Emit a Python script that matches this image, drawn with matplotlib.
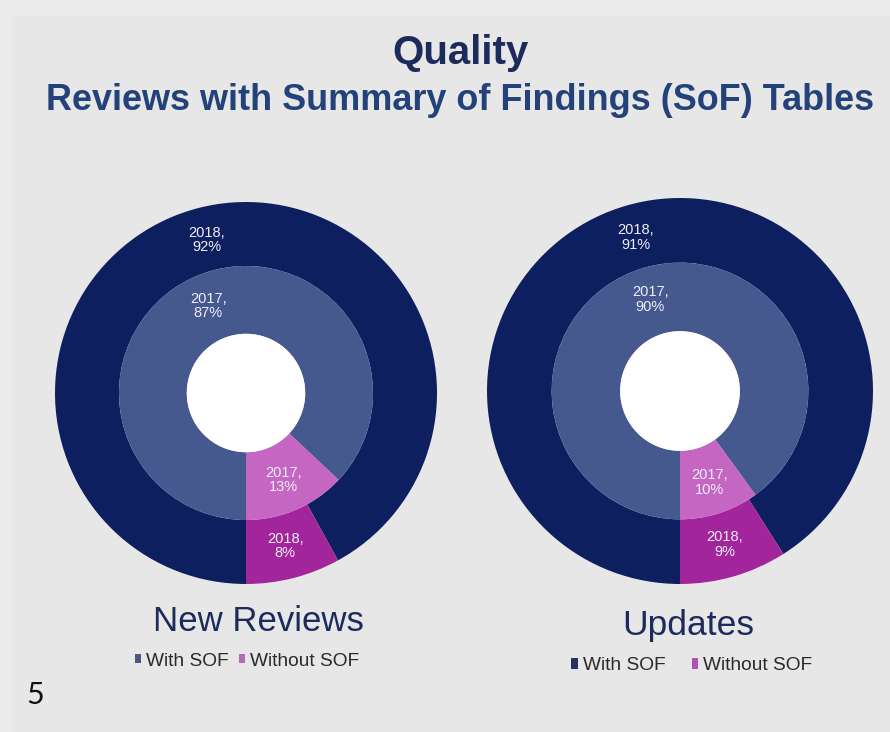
import matplotlib
matplotlib.use("Agg")
import matplotlib.pyplot as plt
import numpy as np
from matplotlib.patches import Patch, Circle, Rectangle

plt.rcParams['font.family'] = ['Liberation Sans', 'DejaVu Sans']

# ---- data ----
categories = ["With SOF", "Without SOF"]
new_2017 = [87, 13]
new_2018 = [92, 8]
upd_2017 = [90, 10]
upd_2018 = [91, 9]
chart_titles = ["New Reviews", "Updates"]
year_inner = "2017"
year_outer = "2018"

# ---- style ----
bg = "#e7e7e7"
outer_colors = ["#0e1f5f", "#a2259c"]
inner_colors = ["#46598f", "#c466c2"]
title_color = "#1c2b5c"
sub_color = "#23427a"

W, H = 890, 732
fig = plt.figure(figsize=(W / 100, H / 100), dpi=100, facecolor=bg)
# subtle lighter slide border strips
fig.patches.append(Rectangle((0, 1 - 16 / H), 1, 16 / H, transform=fig.transFigure,
                             facecolor="#ebebeb", edgecolor="none", zorder=0))
fig.patches.append(Rectangle((0, 0), 12 / W, 1, transform=fig.transFigure,
                             facecolor="#ebebeb", edgecolor="none", zorder=0))

def px_axes(cx, cy, r):
    return fig.add_axes([(cx - r) / W, (H - cy - r) / H, 2 * r / W, 2 * r / H])

def donut(ax, inner, outer):
    ax.set_facecolor("none")
    r_out, r_mid, r_hole = 1.0, 0.665, 0.31
    wo, _ = ax.pie(outer, radius=r_out, colors=outer_colors, startangle=270,
                   counterclock=False, wedgeprops=dict(width=r_out - r_mid, linewidth=0))
    wi, _ = ax.pie(inner, radius=r_mid, colors=inner_colors, startangle=270,
                   counterclock=False, wedgeprops=dict(width=r_mid - r_hole, linewidth=0))
    ax.add_patch(Circle((0, 0), r_hole, facecolor="white", edgecolor="none"))
    for wedges, vals, yr, rr in ((wo, outer, year_outer, (r_out + r_mid) / 2 - 0.005),
                                 (wi, inner, year_inner, (r_mid + r_hole) / 2 + 0.01)):
        for w, v in zip(wedges, vals):
            a = np.deg2rad((w.theta1 + w.theta2) / 2)
            ax.text(rr * np.cos(a), rr * np.sin(a), f"{yr},\n{v}%", ha="center",
                    va="center", color="#f0eef6", fontsize=10.5, linespacing=1.05)
    ax.set_xlim(-1, 1)
    ax.set_ylim(-1, 1)
    ax.set_aspect("equal")
    ax.axis("off")

ax1 = px_axes(246, 393, 191)
donut(ax1, new_2017, new_2018)
ax2 = px_axes(680, 391, 193)
donut(ax2, upd_2017, upd_2018)

fig.text(461 / W, 1 - 53 / H, "Quality", ha="center", va="center",
         fontsize=29, fontweight="bold", color=title_color)
fig.text(460 / W, 1 - 100 / H, "Reviews with Summary of Findings (SoF) Tables",
         ha="center", va="center", fontsize=25.9, fontweight="bold", color=sub_color)

fig.text(258 / W, 1 - 631 / H, chart_titles[0], ha="center", va="baseline",
         fontsize=25, color=title_color)
fig.text(688 / W, 1 - 635 / H, chart_titles[1], ha="center", va="baseline",
         fontsize=25.5, color=title_color)

leg1 = [Patch(facecolor="#4a5585", edgecolor="none", label=categories[0]),
        Patch(facecolor="#b46ab4", edgecolor="none", label=categories[1])]
fig.legend(handles=leg1, loc="center", bbox_to_anchor=(247 / W, 1 - 661 / H), ncol=2,
           frameon=False, fontsize=13.8, handlelength=0.33, handleheight=0.38,
           handletextpad=0.25, columnspacing=0.55, labelcolor="#2a2a2a",
           borderaxespad=0, borderpad=0)
leg2 = [Patch(facecolor="#283262", edgecolor="none", label=categories[0]),
        Patch(facecolor="#b452b2", edgecolor="none", label=categories[1])]
fig.legend(handles=leg2, loc="center", bbox_to_anchor=(692 / W, 1 - 666 / H), ncol=2,
           frameon=False, fontsize=13.8, handlelength=0.33, handleheight=0.5,
           handletextpad=0.25, columnspacing=1.4, labelcolor="#2a2a2a",
           borderaxespad=0, borderpad=0)

fig.text(35 / W, 1 - 695 / H, "5", ha="center", va="center", fontsize=22,
         color="#111111", family=["Lato", "DejaVu Sans"])

fig.savefig("out.png", dpi=100, facecolor=bg)
